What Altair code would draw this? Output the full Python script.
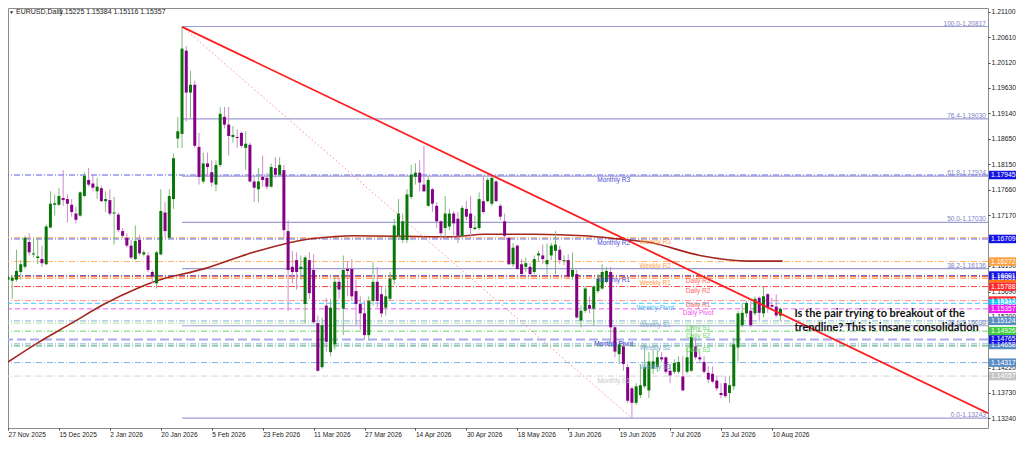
import json

import altair as alt
import pandas as pd

# EURUSD daily candles, one per trading day starting 27 Nov 2025
OPEN = [
    1.1592, 1.1590, 1.1592, 1.1607, 1.1617, 1.1665, 1.1641, 1.1634, 1.1632, 1.1622,
    1.1693, 1.1737, 1.1737, 1.1750, 1.1748, 1.1737, 1.1720, 1.1716, 1.1754, 1.1785,
    1.1778, 1.1763, 1.1769, 1.1744, 1.1746, 1.1720, 1.1718, 1.1686, 1.1673, 1.1658,
    1.1632, 1.1669, 1.1641, 1.1639, 1.1607, 1.1585, 1.1641, 1.1722, 1.1673, 1.1748,
    1.1865, 1.1874, 1.2035, 1.1954, 1.1969, 1.1849, 1.1782, 1.1817, 1.1800, 1.1776,
    1.1814, 1.1907, 1.1892, 1.1868, 1.1868, 1.1876, 1.1847, 1.1853, 1.1782, 1.1767,
    1.1791, 1.1789, 1.1772, 1.1808, 1.1795, 1.1804, 1.1686, 1.1617, 1.1630, 1.1613,
    1.1545, 1.1630, 1.1611, 1.1508, 1.1423, 1.1542, 1.1452, 1.1467, 1.1588, 1.1536,
    1.1613, 1.1613, 1.1570, 1.1545, 1.1527, 1.1485, 1.1551, 1.1588, 1.1564, 1.1538,
    1.1555, 1.1592, 1.1677, 1.1669, 1.1669, 1.1752, 1.1791, 1.1799, 1.1776, 1.1735,
    1.1767, 1.1735, 1.1705, 1.1692, 1.1695, 1.1720, 1.1710, 1.1677, 1.1729, 1.1720,
    1.1690, 1.1692, 1.1744, 1.1744, 1.1739, 1.1782, 1.1735, 1.1705, 1.1673, 1.1622,
    1.1658, 1.1622, 1.1617, 1.1617, 1.1607, 1.1639, 1.1639, 1.1622, 1.1639, 1.1648,
    1.1650, 1.1628, 1.1630, 1.1598, 1.1603, 1.1513, 1.1532, 1.1543, 1.1536, 1.1570,
    1.1575, 1.1588, 1.1607, 1.1500, 1.1448, 1.1463, 1.1423, 1.1382, 1.1354, 1.1369,
    1.1386, 1.1378, 1.1420, 1.1423, 1.1442, 1.1442, 1.1416, 1.1414, 1.1414, 1.1405,
    1.1414, 1.1416, 1.1463, 1.1442, 1.1433, 1.1412, 1.1410, 1.1397, 1.1373, 1.1392,
    1.1373, 1.1386, 1.1461, 1.1504, 1.1527, 1.1532, 1.1527, 1.1557, 1.1527, 1.1564,
    1.1543, 1.1540, 1.15225,
]
HIGH = [
    1.1613, 1.1600, 1.1650, 1.1630, 1.1677, 1.1682, 1.1673, 1.1673, 1.1658, 1.1699,
    1.1763, 1.1757, 1.1769, 1.1804, 1.1757, 1.1748, 1.1733, 1.1763, 1.1800, 1.1808,
    1.1795, 1.1789, 1.1774, 1.1763, 1.1767, 1.1752, 1.1722, 1.1692, 1.1682, 1.1669,
    1.1697, 1.1679, 1.1650, 1.1645, 1.1611, 1.1648, 1.1767, 1.1742, 1.1767, 1.1836,
    1.1907, 1.20817, 1.2044, 1.1996, 1.1977, 1.1876, 1.1838, 1.1838, 1.1823, 1.1823,
    1.1926, 1.1926, 1.1926, 1.1889, 1.1883, 1.1879, 1.1879, 1.1857, 1.1791, 1.1808,
    1.1832, 1.1799, 1.1817, 1.1829, 1.1829, 1.1814, 1.1707, 1.1648, 1.1645, 1.1639,
    1.1639, 1.1645, 1.1641, 1.1523, 1.1519, 1.1557, 1.1555, 1.1598, 1.1598, 1.1639,
    1.1626, 1.1632, 1.1592, 1.1560, 1.1551, 1.1560, 1.1626, 1.1617, 1.1579, 1.1575,
    1.1607, 1.1710, 1.1748, 1.1720, 1.1767, 1.1814, 1.1817, 1.1823, 1.1851, 1.1791,
    1.1770, 1.1742, 1.1707, 1.1754, 1.1729, 1.1725, 1.1723, 1.1735, 1.1744, 1.1754,
    1.1716, 1.1761, 1.1791, 1.1789, 1.1795, 1.1785, 1.1739, 1.1720, 1.1675, 1.1663,
    1.1660, 1.1632, 1.1635, 1.1624, 1.1639, 1.1648, 1.1660, 1.1662, 1.1663, 1.1686,
    1.1658, 1.1639, 1.1641, 1.1645, 1.1611, 1.1542, 1.1579, 1.1560, 1.1581, 1.1603,
    1.1622, 1.1617, 1.1617, 1.1504, 1.1474, 1.1470, 1.1429, 1.1386, 1.1392, 1.1429,
    1.1467, 1.1452, 1.1457, 1.1457, 1.1452, 1.1444, 1.1429, 1.1438, 1.1444, 1.1444,
    1.1461, 1.1504, 1.1480, 1.1453, 1.1444, 1.1425, 1.1425, 1.1407, 1.1392, 1.1405,
    1.1405, 1.1480, 1.1532, 1.1547, 1.1551, 1.1551, 1.1560, 1.1560, 1.1579, 1.1566,
    1.1557, 1.1564, 1.15384,
]
LOW = [
    1.1579, 1.1555, 1.1588, 1.1592, 1.1613, 1.1639, 1.1635, 1.1622, 1.1617, 1.1620,
    1.1692, 1.1716, 1.1735, 1.1735, 1.1703, 1.1714, 1.1701, 1.1714, 1.1752, 1.1772,
    1.1763, 1.1748, 1.1742, 1.1723, 1.1716, 1.1660, 1.1684, 1.1673, 1.1654, 1.1632,
    1.1630, 1.1639, 1.1637, 1.1607, 1.1585, 1.1575, 1.1639, 1.1673, 1.1669, 1.1729,
    1.1847, 1.1847, 1.1898, 1.1904, 1.1847, 1.1776, 1.1778, 1.1791, 1.1772, 1.1763,
    1.1810, 1.1885, 1.1832, 1.1857, 1.1847, 1.1847, 1.1804, 1.1780, 1.1742, 1.1742,
    1.1772, 1.1767, 1.1770, 1.1789, 1.1791, 1.1673, 1.1532, 1.1585, 1.1573, 1.1592,
    1.1508, 1.1555, 1.1508, 1.1414, 1.1420, 1.1453, 1.1444, 1.1457, 1.1555, 1.1485,
    1.1560, 1.1551, 1.1504, 1.1495, 1.1476, 1.1476, 1.1542, 1.1538, 1.1519, 1.1523,
    1.1551, 1.1583, 1.1669, 1.1663, 1.1663, 1.1748, 1.1776, 1.1763, 1.1761, 1.1733,
    1.1723, 1.1692, 1.1669, 1.1673, 1.1688, 1.1673, 1.1663, 1.1673, 1.1707, 1.1673,
    1.1688, 1.1688, 1.1720, 1.1742, 1.1735, 1.1742, 1.1707, 1.1669, 1.1620, 1.1617,
    1.1611, 1.1602, 1.1607, 1.1598, 1.1603, 1.1626, 1.1622, 1.1603, 1.1630, 1.1603,
    1.1622, 1.1620, 1.1594, 1.1592, 1.1517, 1.1500, 1.1528, 1.1527, 1.1504, 1.1566,
    1.1573, 1.1585, 1.1472, 1.1442, 1.1429, 1.1416, 1.1354, 1.13243, 1.1350, 1.1363,
    1.1382, 1.1363, 1.1410, 1.1414, 1.1433, 1.1410, 1.1392, 1.1410, 1.1410, 1.1377,
    1.1410, 1.1414, 1.1438, 1.1433, 1.1410, 1.1392, 1.1392, 1.1377, 1.1363, 1.1363,
    1.1354, 1.1378, 1.1434, 1.1500, 1.1519, 1.1500, 1.1523, 1.1513, 1.1519, 1.1528,
    1.1532, 1.1519, 1.15116,
]
CLOSE = [
    1.1598, 1.1596, 1.1609, 1.1622, 1.1673, 1.1645, 1.1643, 1.1637, 1.1624, 1.1695,
    1.1739, 1.1740, 1.1754, 1.1746, 1.1739, 1.1723, 1.1708, 1.1761, 1.1793, 1.1776,
    1.1770, 1.1772, 1.1744, 1.1748, 1.1720, 1.1722, 1.1688, 1.1677, 1.1658, 1.1635,
    1.1667, 1.1643, 1.1645, 1.1611, 1.1598, 1.1645, 1.1725, 1.1686, 1.1754, 1.1827,
    1.1879, 1.2039, 1.1954, 1.1969, 1.1851, 1.1791, 1.1817, 1.1810, 1.1780, 1.1814,
    1.1913, 1.1892, 1.1870, 1.1872, 1.1866, 1.1851, 1.1855, 1.1782, 1.1770, 1.1782,
    1.1785, 1.1772, 1.1810, 1.1795, 1.1814, 1.1688, 1.1611, 1.1607, 1.1607, 1.1617,
    1.1635, 1.1566, 1.1510, 1.1416, 1.1504, 1.1472, 1.1538, 1.1588, 1.1573, 1.1611,
    1.1609, 1.1560, 1.1545, 1.1527, 1.1485, 1.1551, 1.1588, 1.1551, 1.1527, 1.1560,
    1.1594, 1.1697, 1.1720, 1.1705, 1.1757, 1.1795, 1.1799, 1.1780, 1.1763, 1.1785,
    1.1739, 1.1705, 1.1682, 1.1720, 1.1720, 1.1701, 1.1677, 1.1731, 1.1714, 1.1692,
    1.1693, 1.1748, 1.1723, 1.1785, 1.1789, 1.1744, 1.1714, 1.1677, 1.1622, 1.1654,
    1.1613, 1.1603, 1.1624, 1.1603, 1.1632, 1.1643, 1.1632, 1.1630, 1.1658, 1.1660,
    1.1630, 1.1630, 1.1598, 1.1611, 1.1519, 1.1532, 1.1575, 1.1536, 1.1579, 1.1594,
    1.1607, 1.1609, 1.1500, 1.1453, 1.1467, 1.1429, 1.1358, 1.1354, 1.1386, 1.1388,
    1.1423, 1.1434, 1.1434, 1.1442, 1.1438, 1.1414, 1.1407, 1.1431, 1.1433, 1.1378,
    1.1442, 1.1481, 1.1442, 1.1438, 1.1414, 1.1399, 1.1395, 1.1382, 1.1369, 1.1367,
    1.1388, 1.1467, 1.1527, 1.1528, 1.1547, 1.1504, 1.1555, 1.1528, 1.1560, 1.1538,
    1.1540, 1.1523, 1.15357,
]

# long moving average, read at a handful of bars
MA_BAR = [-0.7, 7, 15, 22.7, 30.4, 34.4, 46.1, 57.8, 69.5, 76.5, 81.2,
          104.6, 112.3, 124, 135.7, 143.6, 151.3, 163, 174.7, 182.5]
MA_VALUE = [1.1429, 1.1470, 1.1508, 1.1545, 1.1575, 1.1588, 1.1613, 1.1645, 1.1669,
            1.1675, 1.1677, 1.1675, 1.1680, 1.1680, 1.1677, 1.1671, 1.1664, 1.1639,
            1.1628, 1.1628]

DATE_TICKS = [0, 12, 24, 36, 48, 60, 72, 84, 96, 108, 120, 132, 144, 156, 168, 180]
DATE_LABELS = ["27 Nov 2025", "15 Dec 2025", "2 Jan 2026", "20 Jan 2026", "5 Feb 2026",
               "23 Feb 2026", "11 Mar 2026", "27 Mar 2026", "14 Apr 2026", "30 Apr 2026",
               "18 May 2026", "3 Jun 2026", "19 Jun 2026", "7 Jul 2026", "23 Jul 2026",
               "10 Aug 2026"]
PRICE_TICKS = [1.2110, 1.2061, 1.2012, 1.1963, 1.1914, 1.1865, 1.1815, 1.1766, 1.1717,
               1.1668, 1.1619, 1.1569, 1.1520, 1.1471, 1.1422, 1.1373, 1.1324]

TREND_BAR = [41, 230.9]
TREND_PRICE = [1.2081, 1.1334]
SWING_BAR = [41, 147]
SWING_PRICE = [1.20817, 1.13243]

FIB_LEVELS = ["100.0", "76.4", "61.8", "50.0", "38.2", "23.6", "0.0"]
FIB_PRICES = [1.20817, 1.19030, 1.17924, 1.17030, 1.16136, 1.15030, 1.13243]

PIVOT_NAMES = ["Monthly R3", "Monthly R2", "Weekly R3", "Weekly R2", "Monthly R1",
               "Weekly R1", "Daily R3", "Daily R2", "Daily R1", "Weekly Pivot",
               "Daily Pivot", "Weekly S1", "Daily S1", "Daily S2", "Monthly Pivot",
               "Weekly S2", "Daily S3", "Weekly S3", "Monthly S1"]
PIVOT_PRICES = [1.17945, 1.16709, 1.16735, 1.16272, 1.16001, 1.15951, 1.15985, 1.15788,
                1.15517, 1.15465, 1.15357, 1.15124, 1.15080, 1.14926, 1.14765, 1.14680,
                1.14640, 1.14317, 1.14057]
LABEL_BAR = {"Monthly": 142.7, "Weekly": 152.5, "Daily": 162.6}

# price tags on the right scale, in drawing order
TAG_PRICES = [1.17945, 1.16709, 1.16272, 1.15951, 1.16001, 1.15788, 1.15517, 1.15465,
              1.15357, 1.15124, 1.14926, 1.14658, 1.14765, 1.14317, 1.14057]
TAG_KINDS = ["blue", "blue", "orange", "deeporange", "blue", "red", "red", "cyan",
             "magenta", "steel", "green", "steel", "blue", "steel", "grey"]

SYMBOL = "EURUSD,Daily"
QUOTE = "1.15225 1.15384 1.15116 1.15357"
NOTE_LINES = ["Is the pair trying to breakout of the",
              "trendline? This is insane consolidation"]
NOTE_BAR = 185.3
NOTE_PRICES = [1.15266, 1.14985]

# ---------------------------------------------------------------- styling
W, H = 980, 420
X_END = 230.9
FONT = "Liberation Sans"

TAG_COLORS = {"blue": "#1414e6", "orange": "#ffa040", "deeporange": "#ff7410",
              "red": "#ff2a2a", "cyan": "#14c4ff", "magenta": "#f01cf0",
              "steel": "#5a8cc4", "green": "#3ccc3c", "grey": "#c4c4c4"}

# name -> (line colour, label colour, dash kind)
PIVOT_STYLE = {
    "Monthly R3": ("#5b5be6", "#4a4ad8", "dashdot"),
    "Monthly R2": ("#5b5be6", "#4a4ad8", "dashdot"),
    "Monthly R1": ("#5b5be6", "#4a4ad8", "dashdot"),
    "Monthly Pivot": ("#aaaaf0", "#3434c8", "long"),
    "Monthly S1": ("#d2d2d2", "#c6c6c6", "dashdot"),
    "Weekly R3": ("#ffb468", "#ffa24a", "dashdot"),
    "Weekly R2": ("#ffb468", "#ffa24a", "dashdot"),
    "Weekly R1": ("#ff7a1e", "#ff9a44", "dashdot"),
    "Weekly Pivot": ("#3cc8ff", "#33bff2", "dash"),
    "Weekly S1": ("#88aed8", "#80a6ce", "dashdot"),
    "Weekly S2": ("#88aed8", "#80a6ce", "dashdot"),
    "Weekly S3": ("#7cb0e2", "#80a6ce", "dashdot"),
    "Daily R3": ("#ff5a2e", "#ff5e5e", "dashdot"),
    "Daily R2": ("#ff3c3c", "#ff5e5e", "dashdot"),
    "Daily R1": ("#ff8c8c", "#ff5e5e", "dashdot"),
    "Daily Pivot": ("#ee5cee", "#f04ef0", "dash"),
    "Daily S1": ("#a8e6a8", "#6cd86c", "dashdot"),
    "Daily S2": ("#6cd26c", "#6cd86c", "dashdot"),
    "Daily S3": ("#34aa62", "#6cd86c", "dashdot"),
}
DASHES = {"dashdot": ([6, 2, 1, 2], 1), "dash": ([5, 3], 1), "long": ([9, 4], 2)}

X_SCALE = alt.Scale(domain=[0, X_END], nice=False, zero=False)
Y_SCALE = alt.Scale(domain=[1.13053, 1.21175], nice=False, zero=False)

X_AXIS = alt.Axis(
    values=DATE_TICKS, labelExpr=json.dumps(DATE_LABELS) + "[round(datum.value / 12)]",
    title=None, grid=False, domain=False, tickSize=2, tickColor="#444",
    labelAlign="left", labelBaseline="top", labelPadding=1, labelFont=FONT,
    labelFontSize=6.6, labelColor="#222", labelFlush=False, labelOverlap=False,
)
Y_AXIS = alt.Axis(
    orient="right", values=PRICE_TICKS, format=".5f", title=None, grid=False,
    domain=False, tickSize=2, tickColor="#444", labelPadding=1, labelFont=FONT,
    labelFontSize=6.8, labelColor="#222", labelOverlap=False,
)


def xq(field):
    return alt.X(f"{field}:Q", scale=X_SCALE, axis=X_AXIS)


def yq(field):
    return alt.Y(f"{field}:Q", scale=Y_SCALE, axis=Y_AXIS)


# ---------------------------------------------------------------- tables
candles = pd.DataFrame({"bar": range(len(OPEN)), "open": OPEN, "high": HIGH,
                        "low": LOW, "close": CLOSE})
rising = candles["close"] >= candles["open"]
candles["body"] = rising.map({True: "#0a760a", False: "#840084"})
candles["wick"] = rising.map({True: "#7fba7f", False: "#cc8ccc"})

ma = pd.DataFrame({"bar": MA_BAR, "price": MA_VALUE})
trend = pd.DataFrame({"bar": TREND_BAR, "price": TREND_PRICE})
swing = pd.DataFrame({"bar": SWING_BAR, "price": SWING_PRICE})

fib = pd.DataFrame({"price": FIB_PRICES})
fib["start"] = SWING_BAR[0]
fib["end"] = X_END
fib["label"] = [f"{lvl}-{p:.5f}" for lvl, p in zip(FIB_LEVELS, FIB_PRICES)]

pivots = pd.DataFrame({"name": PIVOT_NAMES, "price": PIVOT_PRICES})
pivots["line"] = pivots["name"].map(lambda n: PIVOT_STYLE[n][0])
pivots["ink"] = pivots["name"].map(lambda n: PIVOT_STYLE[n][1])
pivots["kind"] = pivots["name"].map(lambda n: PIVOT_STYLE[n][2])
pivots["bar"] = pivots["name"].map(lambda n: LABEL_BAR[n.split()[0]])

tags = pd.DataFrame({"price": TAG_PRICES})
tags["fill"] = [TAG_COLORS[k] for k in TAG_KINDS]
tags["text"] = [f"{p:.5f}" for p in TAG_PRICES]

note = pd.DataFrame({"bar": NOTE_BAR, "price": NOTE_PRICES, "text": NOTE_LINES})

# ---------------------------------------------------------------- layers
layers = []
for kind, (dash, width) in DASHES.items():
    layers.append(
        alt.Chart(pivots[pivots["kind"] == kind])
        .mark_rule(strokeDash=dash, strokeWidth=width)
        .encode(y=yq("price"), color=alt.Color("line:N", scale=None))
    )

layers.append(
    alt.Chart(fib).mark_rule(color="#9d9dd6", strokeWidth=1.2)
    .encode(x=xq("start"), x2="end", y=yq("price"))
)
layers.append(
    alt.Chart(ma).mark_line(color="#a3261e", strokeWidth=1.6, interpolate="monotone", clip=True)
    .encode(x=xq("bar"), y=yq("price"))
)
layers.append(
    alt.Chart(candles).mark_rule(strokeWidth=1, clip=True)
    .encode(x=xq("bar"), y=yq("low"), y2="high", color=alt.Color("wick:N", scale=None))
)
layers.append(
    alt.Chart(candles).mark_rule(strokeWidth=3, strokeCap="butt", clip=True)
    .encode(x=xq("bar"), y=yq("open"), y2="close", color=alt.Color("body:N", scale=None))
)
layers.append(
    alt.Chart(swing).mark_line(color="#ff8c8c", strokeWidth=1, strokeDash=[1.5, 2.5])
    .encode(x=xq("bar"), y=yq("price"))
)
layers.append(
    alt.Chart(trend).mark_line(color="#ff1c1c", strokeWidth=1.8, clip=True)
    .encode(x=xq("bar"), y=yq("price"))
)
layers.append(
    alt.Chart(fib).mark_text(align="right", baseline="bottom", dx=-2, font=FONT,
                             fontSize=6.6, color="#8080c4")
    .encode(x=xq("end"), y=yq("price"), text="label:N")
)
layers.append(
    alt.Chart(pivots).mark_text(align="center", baseline="top", dy=1.5, font=FONT, fontSize=6.5)
    .encode(x=xq("bar"), y=yq("price"), text="name:N", color=alt.Color("ink:N", scale=None))
)
layers.append(
    alt.Chart(note).mark_text(align="left", baseline="middle", font="Lato", fontWeight="bold",
                              fontSize=11, color="#111")
    .encode(x=xq("bar"), y=yq("price"), text="text:N")
)

head = pd.DataFrame({"arrow": ["\u25bc"], "symbol": [SYMBOL], "quote": [QUOTE]})
for field, left, size in [("arrow", 1, 5), ("symbol", 8, 7), ("quote", 51, 7)]:
    layers.append(
        alt.Chart(head).mark_text(align="left", baseline="middle", font=FONT, fontSize=size,
                                  color="#222")
        .encode(x=alt.value(left), y=alt.value(4), text=f"{field}:N")
    )

layers.append(
    alt.Chart(tags)
    .transform_calculate(top="datum.price + 0.00082", bottom="datum.price - 0.00082")
    .mark_rect()
    .encode(x=alt.value(W + 1), x2=alt.value(W + 28), y=yq("top"), y2="bottom",
            color=alt.Color("fill:N", scale=None))
)
layers.append(
    alt.Chart(tags).mark_text(align="left", baseline="middle", font=FONT, fontSize=6.8,
                              color="white")
    .encode(x=alt.value(W + 3), y=yq("price"), text="text:N")
)

chart = (
    alt.layer(*layers)
    .properties(width=W, height=H, background="white",
                padding={"left": 0, "top": 0, "right": 28, "bottom": 10},
                autosize=alt.AutoSizeParams(type="none"))
    .configure_view(stroke="#8c8c8c", strokeWidth=1)
)

chart.save("out.html", embed_options={"renderer": "svg", "actions": False})
